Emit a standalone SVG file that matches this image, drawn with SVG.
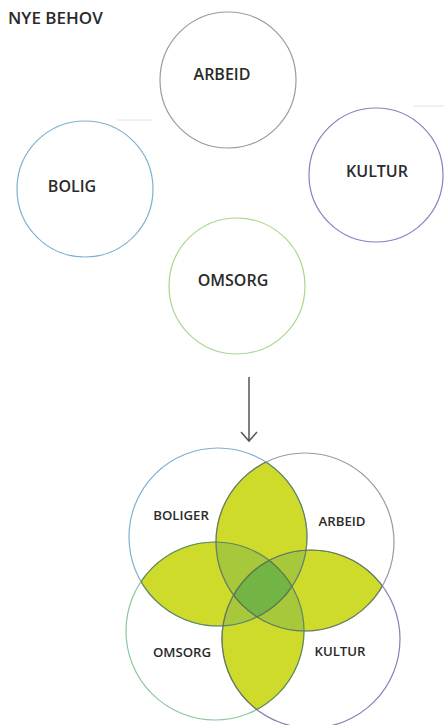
<svg xmlns="http://www.w3.org/2000/svg" width="444" height="725" viewBox="0 0 444 725">
<style>
text{font-family:"Open Sans","Liberation Sans",sans-serif;font-weight:600;fill:#2a2a2a;text-anchor:middle}
.t{font-size:16px}
.s{font-size:13.2px}
.c{fill:none;stroke-width:1.2}
.lens{fill:#cedb2b}
.mid{fill:#a8c83c}
.ctr{fill:#73b545}
.edge{fill:none;stroke:#5d7a3c;stroke-width:1.2;stroke-opacity:0.8}
</style>
<defs>
<clipPath id="cA"><circle cx="218" cy="537" r="89"/></clipPath>
<clipPath id="cB"><circle cx="305" cy="542" r="89"/></clipPath>
<clipPath id="cC"><circle cx="215" cy="631" r="89"/></clipPath>
<clipPath id="cD"><circle cx="311" cy="639" r="89"/></clipPath>
</defs>
<text x="8" y="24" style="font-size:17px;text-anchor:start">NYE BEHOV</text>
<line x1="117" y1="120" x2="153" y2="120" stroke="#e2e2e2" stroke-width="1"/>
<line x1="413" y1="106" x2="444" y2="106" stroke="#e2e2e2" stroke-width="1"/>
<g id="arbeid"><circle class="c" cx="228" cy="80" r="68" stroke="#9a9a9a"/><text class="t" x="222" y="80">ARBEID</text></g>
<g id="bolig"><circle class="c" cx="85" cy="189" r="68" stroke="#7eb0cf"/><text class="t" x="72" y="192">BOLIG</text></g>
<g id="kultur"><circle class="c" cx="376" cy="175" r="67" stroke="#8a7fba"/><text class="t" x="377" y="177">KULTUR</text></g>
<g id="omsorg"><circle class="c" cx="237" cy="286" r="68" stroke="#a9d68f"/><text class="t" x="233" y="286">OMSORG</text></g>
<g id="connectors"><path d="M249 377V441M241 432L249 441L257 432" fill="none" stroke="#555" stroke-width="1.5"/></g>
<g id="venn">
<g clip-path="url(#cA)"><circle class="lens" cx="305" cy="542" r="89"/></g>
<g clip-path="url(#cB)"><circle class="lens" cx="311" cy="639" r="89"/></g>
<g clip-path="url(#cD)"><circle class="lens" cx="215" cy="631" r="89"/></g>
<g clip-path="url(#cC)"><circle class="lens" cx="218" cy="537" r="89"/></g>
<g clip-path="url(#cA)"><g clip-path="url(#cB)"><circle class="mid" cx="215" cy="631" r="89"/><circle class="mid" cx="311" cy="639" r="89"/></g></g>
<g clip-path="url(#cC)"><g clip-path="url(#cD)"><circle class="mid" cx="218" cy="537" r="89"/><circle class="mid" cx="305" cy="542" r="89"/></g></g>
<g clip-path="url(#cA)"><g clip-path="url(#cB)"><g clip-path="url(#cC)"><circle class="ctr" cx="311" cy="639" r="89"/></g></g></g>
<circle class="c" cx="218" cy="537" r="89" stroke="#7eb0cf"/>
<circle class="c" cx="305" cy="542" r="89" stroke="#9a9aa6"/>
<circle class="c" cx="215" cy="631" r="89" stroke="#8cc79d"/>
<circle class="c" cx="311" cy="639" r="89" stroke="#877fb5"/>
<g clip-path="url(#cB)"><circle class="edge" cx="218" cy="537" r="89"/></g>
<g clip-path="url(#cC)"><circle class="edge" cx="218" cy="537" r="89"/></g>
<g clip-path="url(#cA)"><circle class="edge" cx="305" cy="542" r="89"/></g>
<g clip-path="url(#cD)"><circle class="edge" cx="305" cy="542" r="89"/></g>
<g clip-path="url(#cA)"><circle class="edge" cx="215" cy="631" r="89"/></g>
<g clip-path="url(#cD)"><circle class="edge" cx="215" cy="631" r="89"/></g>
<g clip-path="url(#cB)"><circle class="edge" cx="311" cy="639" r="89"/></g>
<g clip-path="url(#cC)"><circle class="edge" cx="311" cy="639" r="89"/></g>
</g>
<g id="boliger2"><text class="s" x="181" y="520">BOLIGER</text></g>
<g id="arbeid2"><text class="s" x="342" y="526">ARBEID</text></g>
<g id="omsorg2"><text class="s" x="182" y="657">OMSORG</text></g>
<g id="kultur2"><text class="s" x="340" y="656">KULTUR</text></g>
</svg>
